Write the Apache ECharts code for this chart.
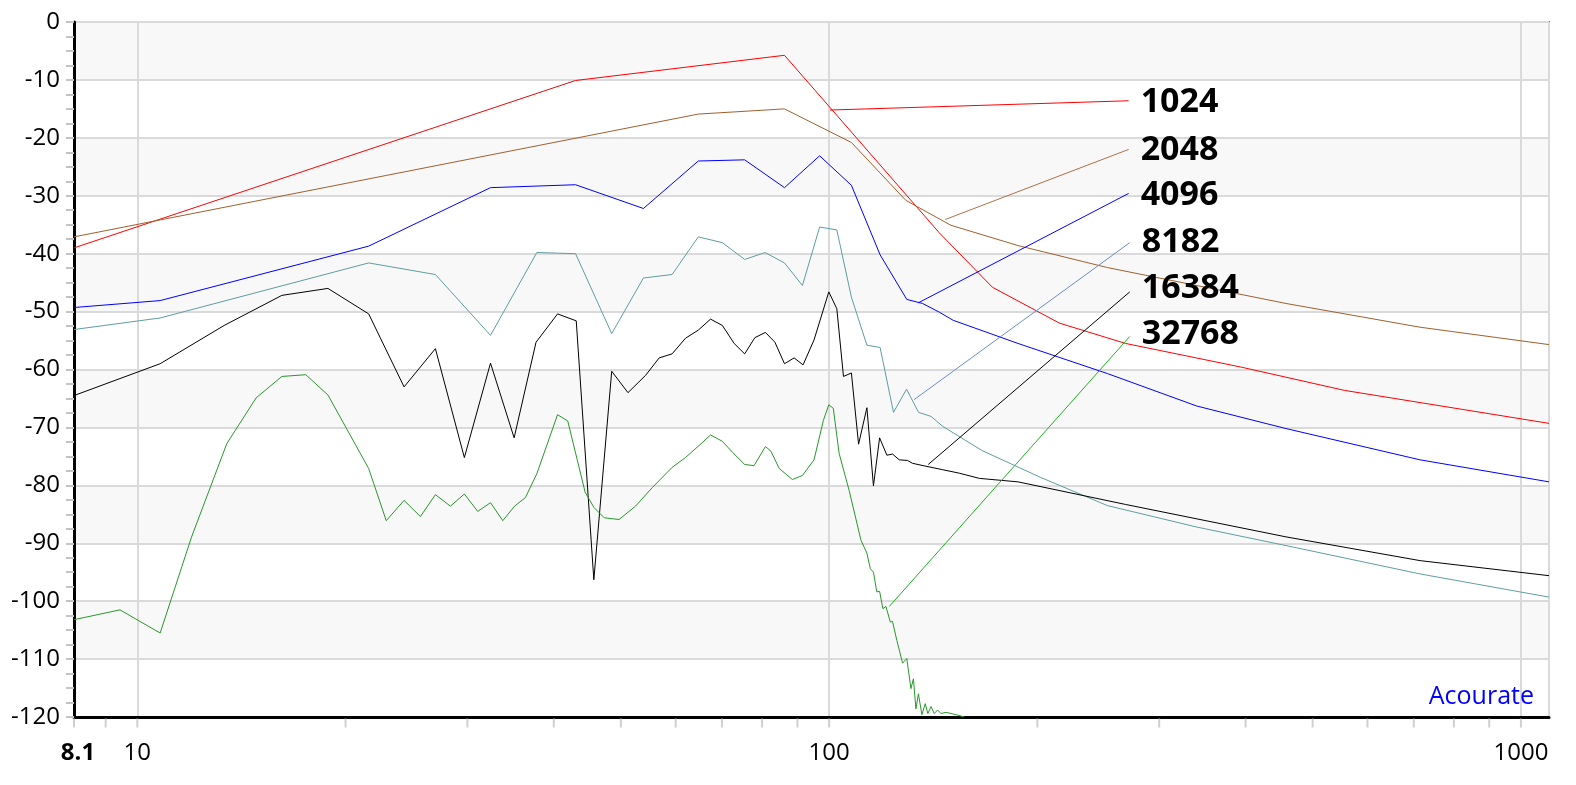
<!DOCTYPE html>
<html><head><meta charset="utf-8">
<script src="https://cdn.jsdelivr.net/npm/echarts@6/dist/echarts.min.js"></script>
<style>html,body{margin:0;padding:0;background:#fff}#c{width:1576px;height:785px}</style>
</head><body><div id="c"></div>
<script>
// ---- data: [frequency Hz, level dB] ----
const seriesNames = ['1024', '2048', '4096', '8182', '16384', '32768'];

const s1024 = [[8.1,-39.0],[43.0,-10.1],[86.2,-5.75],[144.3,-36.4],[172.2,-45.8],[215.3,-52.0],[268.2,-55.5],[394.5,-59.6],[555.5,-63.6],[1098,-69.3]];

const s2048 = [[8.1,-37.1],[64.7,-15.9],[86.2,-15.0],[107.7,-20.8],[129.1,-30.8],[150,-35.1],[187.5,-38.6],[252.5,-42.4],[457.6,-48.6],[715,-52.7],[1098,-55.7]];

const s4096 = [[8.1,-49.3],[10.79,-48.1],[21.6,-38.7],[32.4,-28.6],[43.0,-28.1],[53.9,-32.2],[64.7,-24.0],[75.5,-23.8],[86.2,-28.6],[96.9,-23.1],[107.7,-28.2],[118.5,-40.2],[129.5,-47.9],[136.5,-48.6],[144.3,-50.1],[151.1,-51.5],[187.5,-55.5],[252.5,-60.7],[339.9,-66.3],[457.6,-70.2],[715,-75.6],[1098,-79.4]];

const s8182 = [[8.1,-53.1],[10.79,-51.1],[21.6,-41.6],[26.97,-43.6],[32.4,-54.1],[37.8,-39.8],[43.0,-40.0],[48.5,-53.8],[53.9,-44.2],[59.3,-43.6],[64.7,-37.1],[70.1,-38.1],[75.5,-41.0],[80.8,-39.8],[86.2,-41.6],[91.5,-45.5],[96.9,-35.4],[102.6,-35.9],[107.7,-47.5],[113.4,-55.8],[118.5,-56.2],[123.9,-67.4],[129.4,-63.4],[134.7,-67.4],[140.4,-68.1],[145.9,-69.8],[166.4,-74.0],[201.9,-78.6],[252.5,-83.5],[339.9,-87.2],[457.6,-90.4],[715,-95.3],[1098,-99.3]];

const s16384 = [[8.1,-64.5],[10.79,-59.0],[13.35,-52.4],[16.18,-47.2],[18.86,-46.0],[21.6,-50.4],[24.3,-63.0],[26.97,-56.4],[29.7,-75.2],[32.4,-58.9],[35.05,-71.8],[37.7,-55.3],[40.5,-50.4],[43.1,-51.6],[45.7,-96.3],[48.5,-60.3],[51.2,-64.0],[54.3,-61.0],[56.8,-58.0],[59.3,-57.3],[62.0,-54.6],[64.7,-53.2],[67.4,-51.3],[70.1,-52.4],[72.9,-55.5],[75.5,-57.3],[78.1,-54.5],[80.9,-53.6],[83.5,-55.3],[86.2,-59.0],[89.0,-58.0],[91.7,-59.2],[95.1,-54.9],[99.9,-46.6],[102.6,-49.5],[104.9,-61.2],[107.7,-60.6],[110.3,-72.9],[113.4,-66.6],[115.9,-80.1],[118.3,-71.8],[121.2,-74.8],[123.5,-74.6],[126.3,-75.6],[129.8,-75.7],[132.0,-76.2],[138.0,-76.7],[145.9,-77.3],[154.2,-77.9],[164.9,-78.8],[187.5,-79.4],[268.2,-83.3],[457.6,-88.9],[715,-93.0],[1098,-95.6]];

const s32768 = [[8.1,-103.2],[9.44,-101.5],[10.79,-105.5],[11.98,-88.9],[13.47,-72.8],[14.85,-64.9],[16.18,-61.2],[17.52,-60.9],[18.86,-64.4],[21.6,-77.1],[22.9,-86.1],[24.3,-82.6],[25.66,-85.4],[26.97,-81.6],[28.35,-83.6],[29.7,-81.5],[31.05,-84.5],[32.4,-83.0],[33.75,-86.1],[35.1,-83.6],[36.4,-82.1],[37.8,-78.0],[40.5,-67.8],[41.9,-68.9],[44.4,-81.2],[45.7,-83.8],[47.3,-85.6],[49.7,-85.9],[52.5,-83.6],[55.5,-80.4],[59.3,-76.9],[62.0,-75.2],[64.9,-73.1],[67.4,-71.3],[70.1,-72.4],[72.5,-74.3],[75.5,-76.4],[77.9,-76.6],[80.9,-73.3],[82.4,-74.1],[84.7,-77.1],[88.5,-79.0],[91.5,-78.3],[95.1,-75.6],[98.1,-68.8],[99.9,-66.1],[101.4,-66.7],[103.4,-74.5],[106.9,-80.9],[111.2,-89.5],[113.4,-91.7],[114.7,-94.4],[115.9,-95.0],[117.2,-98.4],[118.3,-98.3],[119.6,-101.3],[120.8,-100.9],[122.6,-103.6],[123.5,-103.5],[125.3,-106.8],[127.7,-110.7],[129.5,-109.9],[131.3,-115.1],[132.4,-113.4],[133.5,-118.6],[134.6,-116.0],[136.2,-119.6],[137.7,-117.7],[138.9,-119.4],[140.4,-118.2],[141.9,-119.4],[143.5,-118.8],[145.1,-119.4],[147.6,-119.2],[152.6,-119.6],[156.8,-120]];

// leader lines from curve to label: [start], [end]
const lead1024 = [[100.3,-15.2],[271,-13.6]];
const lead2048 = [[147.2,-34.1],[271,-22.0]];
const lead4096 = [[134.5,-48.5],[271,-29.6]];
const lead8182 = [[132.7,-65.2],[272,-38.1]];
const lead16384 = [[139.1,-76.4],[272,-46.6]];
const lead32768 = [[122.2,-100.9],[272,-54.3]];

const xTickValues = [8.1, 9, 10, 20, 30, 40, 50, 60, 70, 80, 90, 100, 200, 300, 400, 500, 600, 700, 800, 900, 1000];
const watermark = 'Acourate';

// ---- styles ----
const lineColors = ['#ff0000', '#a0602d', '#0000ff', '#5f9ea0', '#000000', '#27982a'];
const leaderColors = ['#ff0000', '#b0704a', '#0000ff', '#6a8ccc', '#000000', '#22b022'];
const labelDy = [2, 1, 2, 0, -4, -2];
const FONT = 'Open Sans';

const curves = [s1024, s2048, s4096, s8182, s16384, s32768];
const leaders = [lead1024, lead2048, lead4096, lead8182, lead16384, lead32768];

const series = [];
curves.forEach((d, i) => series.push({
  type: 'line', name: seriesNames[i], data: d, showSymbol: false, symbol: 'none',
  lineStyle: { width: 1, color: lineColors[i] }, z: 3, animation: false, silent: true
}));
leaders.forEach((d, i) => series.push({
  type: 'line', data: d, showSymbol: false, symbol: 'none', z: 4, animation: false, silent: true,
  lineStyle: { width: 1, color: leaderColors[i] },
  endLabel: { show: true, formatter: seriesNames[i], fontSize: 34, fontWeight: 'bold',
    fontFamily: FONT, color: '#000', distance: 12, offset: [0, labelDy[i]] }
}));
series.push({
  type: 'scatter', data: xTickValues.map(v => [v, -120]), symbol: 'rect',
  symbolSize: [2, 9], symbolOffset: [0, 6], itemStyle: { color: '#c4c4c4' },
  clip: false, silent: true, z: 1, animation: false
});

const chart = echarts.init(document.getElementById('c'), null, { renderer: 'canvas' });
chart.setOption({
  animation: false,
  backgroundColor: '#ffffff',
  grid: { left: 74, right: 27, top: 22, bottom: 68, show: true, borderColor: '#808080', borderWidth: 2, backgroundColor: 'transparent' },
  xAxis: {
    type: 'log', logBase: 10, min: 8.1, max: 1098,
    axisLine: { show: true, onZero: false, lineStyle: { color: '#000', width: 3 } },
    axisTick: { show: false },
    splitLine: { show: true, lineStyle: { color: '#dadada', width: 2 } },
    axisLabel: {
      fontSize: 24, fontFamily: FONT, color: '#000', margin: 24,
      showMaxLabel: false, showMinLabel: true,
      formatter: v => v < 9.5 ? '{b|' + (Math.round(v * 10) / 10) + '}' : String(Math.round(v)),
      rich: { b: { fontWeight: 'bold', fontSize: 24, fontFamily: FONT, color: '#000', padding: [0, 0, 0, 8] } }
    }
  },
  yAxis: {
    type: 'value', min: -120, max: 0, interval: 10,
    axisLine: { show: true, onZero: false, lineStyle: { color: '#000', width: 3 } },
    axisTick: { show: true, length: 8, lineStyle: { color: '#c4c4c4', width: 2 } },
    minorTick: { show: true, splitNumber: 4, length: 8, lineStyle: { color: '#c4c4c4', width: 2 } },
    splitLine: { show: true, lineStyle: { color: '#dadada', width: 2 } },
    splitArea: { show: true, areaStyle: { color: ['#ffffff', '#f8f8f8'] } },
    axisLabel: { fontSize: 24, fontFamily: FONT, color: '#000', margin: 14 }
  },
  graphic: [{
    type: 'text', x: 1534, y: 697, z: 10, silent: true,
    style: { text: watermark, fill: '#0000ff', fontSize: 25, fontFamily: FONT,
      align: 'right', verticalAlign: 'middle', textAlign: 'right', textVerticalAlign: 'middle' }
  }],
  series: series
});
</script>
</body></html>
